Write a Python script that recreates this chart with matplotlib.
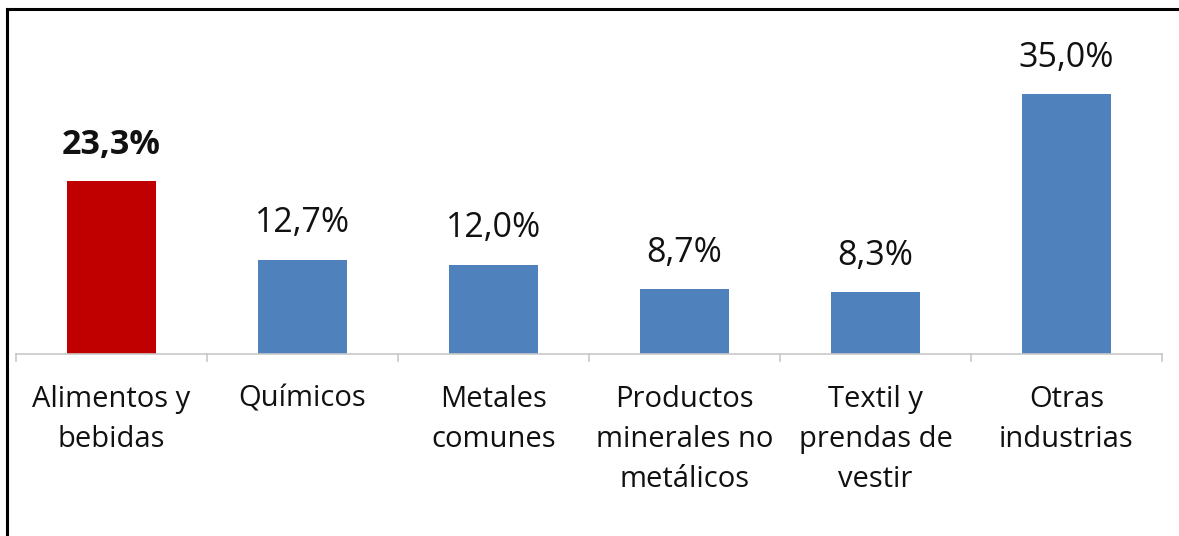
import matplotlib.pyplot as plt
from matplotlib.lines import Line2D

categories = ['Alimentos y\nbebidas', 'Químicos', 'Metales\ncomunes',
              'Productos\nminerales no\nmetálicos', 'Textil y\nprendas de\nvestir',
              'Otras\nindustrias']
shares = [23.3, 12.7, 12.0, 8.7, 8.3, 35.0]
highlight = 0

plt.rcParams['font.family'] = ['Open Sans', 'DejaVu Sans']

fig = plt.figure(figsize=(11.79, 5.36), dpi=100)
ax = fig.add_axes([0.0136, 0.3396, 0.972, 0.623])

colors = ['#C00000' if i == highlight else '#4F81BD' for i in range(len(shares))]
x = list(range(len(shares)))
ax.bar(x, shares, width=0.47, color=colors)

for i, v in enumerate(shares):
    label = f'{v:.1f}%'.replace('.', ',')
    ax.annotate(label, (i, v), xytext=(0, 14), textcoords='offset points',
                ha='center', va='bottom', fontsize=24.5, color='#111111',
                fontweight='bold' if i == highlight else 'normal')

ax.set_xlim(-0.5, len(shares) - 0.5)
ax.set_ylim(0, 45)
for s in ['top', 'right', 'left']:
    ax.spines[s].set_visible(False)
ax.spines['bottom'].set_color('#C8C8C8')
ax.spines['bottom'].set_linewidth(1.2)
ax.set_yticks([])

# category labels centred, tick marks on the boundaries
ax.set_xticks(x)
ax.set_xticklabels(categories, fontsize=21, color='#111111', linespacing=1.52)
ax.tick_params(axis='x', length=0, pad=22)
for b in [i - 0.5 for i in range(len(shares) + 1)]:
    ax.plot([b, b], [0, -1.0], color='#C8C8C8', lw=1.2, clip_on=False)

# outer frame: left and top edges only
fig.add_artist(Line2D([0.0062, 0.0062], [0, 0.983], color='black', lw=2.2))
fig.add_artist(Line2D([0.0062, 1.0], [0.983, 0.983], color='black', lw=2.2))

fig.savefig('out.png', dpi=100)
